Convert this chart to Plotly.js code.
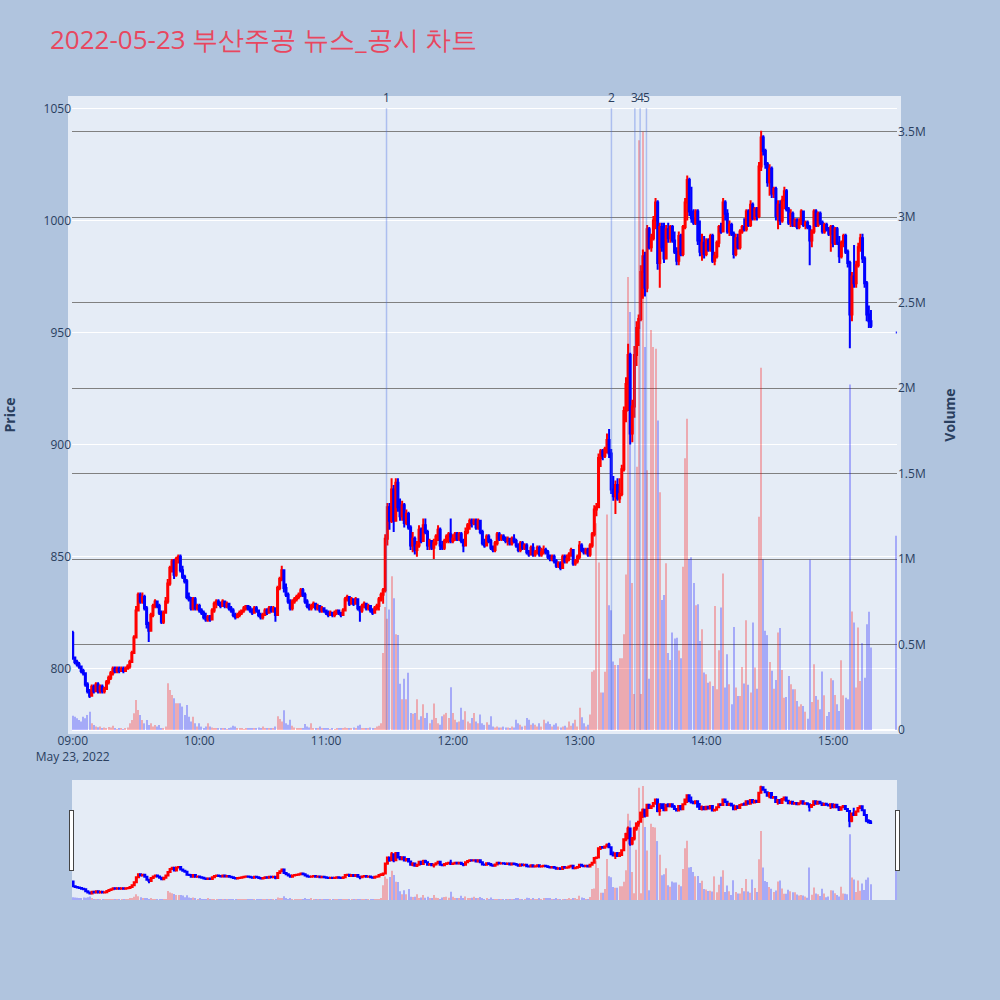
<!DOCTYPE html>
<html>
<head>
<meta charset="utf-8">
<script src="https://cdn.plot.ly/plotly-3.0.1.min.js"></script>
<style>body{margin:0;background:#B0C4DE}</style>
</head>
<body>
<div id="chart" style="width:1000px;height:1000px"></div>
<script>
// 2022-05-23 부산주공, 1-minute candles 09:00-15:18 plus the 15:30 closing print
const DAY = '2022-05-23';

const opens = [
  816,805,803,802,801,799,798,793,790,788, 792,790,793,790,792,790,791,794,796,798,
  800,799,800,799,800,799,800,801,803,807, 814,826,833,830,832,827,820,817,824,828,
  830,828,825,821,825,830,838,845,848,842, 849,850,844,841,839,832,831,827,831,827,
  828,826,825,823,822,823,822,826,829,830, 829,828,830,828,829,827,826,824,823,824,
  825,826,827,828,827,826,825,827,826,824, 823,824,826,825,827,826,827,824,836,840,
  844,836,833,830,827,830,831,832,833,835, 833,830,828,827,828,829,827,828,826,827,
  826,825,824,825,824,825,826,825,824,826, 831,832,829,831,829,831,827,826,828,829,
  827,828,826,825,827,828,831,833,835,858, 872,866,880,866,883,872,868,873,865,869,
  863,855,858,853,855,862,857,864,861,855, 857,854,856,859,862,855,854,857,859,860,
  857,858,860,858,860,857,855,861,864,866, 865,866,863,866,861,856,855,859,857,854,
  853,856,860,858,859,858,857,858,856,858, 857,855,853,856,854,855,852,851,854,851,
  852,854,851,852,853,852,850,849,850,848, 846,847,845,850,848,849,851,853,847,848,
  850,855,853,852,853,851,855,860,871,872, 894,897,895,898,902,896,880,877,882,876,
  878,889,915,927,940,905,917,940,952,956, 977,984,970,996,988,992,1000,1008,981,997,
  988,983,996,992,997,991,986,982,993,985, 997,1008,1018,1004,1001,999,1004,991,986,990,
  985,991,987,993,982,984,990,997,995,1008, 1003,995,998,994,985,992,988,995,997,996,
  1004,998,1007,1001,1005,1002,1024,1037,1031,1025, 1017,1023,1012,1014,1002,1007,1000,1009,1013,1005,
  999,1003,998,1000,997,999,1004,998,999,997, 991,995,1004,998,1003,999,995,998,996,994,
  997,990,996,990,984,990,993,986,981,958, 975,972,980,988,992,983,972,958,955,
  950
];
const highs = [
  817,805,804,803,801,800,798,794,791,793, 793,794,794,793,793,792,795,797,799,801,
  801,801,801,801,801,801,802,804,808,815, 828,834,834,834,833,828,821,825,829,831,
  830,829,826,826,832,840,846,849,849,850, 851,851,846,842,840,834,832,832,832,829,
  829,827,826,825,824,824,827,830,831,831, 830,831,830,830,829,828,827,825,825,826,
  826,828,828,828,828,827,828,828,826,825, 825,827,827,828,828,828,827,837,841,846,
  844,838,834,831,831,832,833,834,836,836, 834,831,829,829,830,829,829,828,828,827,
  826,826,826,825,826,826,826,825,827,832, 833,832,832,831,832,831,828,829,830,829,
  829,828,827,828,829,832,834,836,860,874, 874,885,882,885,885,876,875,874,871,870,
  864,861,859,857,864,863,867,867,862,858, 857,858,860,864,863,857,858,860,861,867,
  860,861,861,861,861,858,863,865,867,867, 867,867,867,866,862,858,860,860,858,855,
  857,861,861,860,860,859,859,858,859,860, 858,856,857,857,856,856,853,855,856,853,
  855,855,854,855,854,853,851,851,851,849, 848,848,851,851,851,852,854,853,849,851,
  857,856,854,854,854,856,861,873,874,896, 898,898,899,905,907,898,886,884,885,885,
  891,917,930,945,941,920,944,955,958,980, 987,986,998,997,994,1002,1010,1009,999,999,
  999,998,999,998,998,995,988,995,994,998, 1010,1020,1019,1015,1005,1005,1005,1000,994,993,
  992,992,994,994,986,991,998,999,1010,1009, 1005,1000,999,995,994,994,996,998,1001,1005,
  1005,1009,1008,1006,1006,1026,1040,1038,1032,1026, 1025,1024,1015,1015,1009,1009,1011,1015,1014,1006,
  1005,1004,1001,1001,1001,1005,1004,1000,1000,998, 996,1005,1005,1004,1004,1000,999,999,997,998,
  998,997,997,993,991,994,994,987,982,977, 989,982,990,994,994,984,973,962,960,
  950
];
const lows = [
  804,802,801,800,798,797,792,789,787,788, 789,790,789,789,789,789,791,793,795,797,
  798,798,798,799,798,799,800,800,803,807, 814,826,829,829,826,818,812,817,823,827,
  827,824,820,820,825,829,837,843,840,841, 847,843,840,838,831,830,826,826,826,826,
  825,824,822,821,821,821,822,825,827,828, 827,828,827,827,826,825,823,822,823,823,
  824,825,826,826,825,824,825,825,823,822, 822,824,824,825,825,825,821,824,835,839,
  834,832,829,826,826,829,830,831,832,832, 829,827,826,826,827,826,826,825,825,825,
  824,823,824,823,823,824,824,823,824,826, 830,828,829,828,829,826,821,825,827,826,
  826,825,824,825,826,826,830,829,834,855, 862,865,861,866,870,866,866,863,864,862,
  853,852,851,850,854,856,857,860,853,853, 853,849,855,857,853,853,853,856,856,856,
  856,857,857,857,856,852,855,860,862,863, 864,862,862,860,855,854,855,856,853,852,
  852,855,857,857,857,856,855,855,855,856, 854,852,852,853,853,851,850,851,850,850,
  851,850,850,851,851,849,848,848,847,845, 845,844,845,847,847,848,850,846,846,847,
  849,852,851,851,850,850,854,859,868,872, 890,893,894,896,894,878,875,869,875,874,
  877,888,910,915,900,901,912,935,944,955, 965,966,968,987,986,991,996,978,970,986,
  981,983,990,990,990,985,980,980,984,984, 996,1000,1002,999,998,998,989,984,982,983,
  984,986,986,981,980,983,988,994,995,1000, 994,993,993,983,984,987,987,994,995,995,
  997,997,1000,1000,1000,1001,1022,1029,1023,1015, 1011,1010,1010,1000,996,998,999,1005,1004,998,
  997,997,997,996,996,998,997,996,996,980, 988,994,997,997,998,994,994,995,993,986,
  988,989,989,981,983,988,985,979,943,955, 970,970,979,986,981,970,955,952,952,
  950
];
const closes = [
  805,803,802,801,799,798,793,790,788,792, 790,793,790,792,790,791,794,796,798,800,
  799,800,799,800,799,800,801,803,807,814, 826,833,830,832,827,820,817,824,828,830,
  828,825,821,825,830,838,845,848,842,849, 850,844,841,839,832,831,827,831,827,828,
  826,825,823,822,823,822,826,829,830,829, 828,830,828,829,827,826,824,823,824,825,
  826,827,828,827,826,825,827,826,824,823, 824,826,825,827,826,827,824,836,840,844,
  836,833,830,827,830,831,832,833,835,833, 830,828,827,828,829,827,828,826,827,826,
  825,824,825,824,825,826,825,824,826,831, 832,829,831,829,831,827,826,828,829,827,
  828,826,825,827,828,831,833,835,858,872, 866,880,866,883,872,868,873,865,869,863,
  855,858,853,855,862,857,864,861,855,857, 854,856,859,862,855,854,857,859,860,857,
  858,860,858,860,857,855,861,864,866,865, 866,863,866,861,856,855,859,857,854,853,
  856,860,858,859,858,857,858,856,858,857, 855,853,856,854,855,852,851,854,851,852,
  854,851,852,853,852,850,849,850,848,846, 847,845,850,848,849,851,853,847,848,850,
  855,853,852,853,851,855,860,871,872,894, 897,895,898,902,896,880,877,882,876,878,
  889,915,927,940,905,917,940,952,956,977, 984,970,996,988,992,1000,1008,981,997,988,
  983,996,992,997,991,986,982,993,985,997, 1008,1018,1004,1001,999,1004,991,986,990,985,
  991,987,993,982,984,990,997,995,1008,1003, 995,998,994,985,992,988,995,997,996,1004,
  998,1007,1001,1005,1002,1024,1037,1031,1025,1017, 1023,1012,1014,1002,1007,1000,1009,1013,1005,999,
  1003,998,1000,997,999,1004,998,999,997,991, 995,1004,998,1003,999,995,998,996,994,997,
  990,996,990,984,990,993,986,981,958,975, 972,980,988,992,983,972,958,955,953,
  950
];
// volume in thousands of shares
const volumesK = [
  84,78,68,59,49,78,68,88,107,39, 29,20,16,20,12,15,8,17,15,25,
  8,5,6,7,5,8,15,39,59,98, 176,117,88,59,39,59,29,39,20,29,
  20,29,12,12,20,273,234,205,186,156, 156,156,137,88,146,78,49,78,39,20,
  39,20,12,20,40,20,15,10,12,8, 10,6,8,5,10,15,25,20,10,8,
  6,5,7,10,8,12,6,10,15,10, 20,8,10,8,12,10,20,80,65,50,
  115,40,30,60,25,15,10,8,12,10, 35,20,15,40,10,10,8,20,10,8,
  6,8,5,6,5,6,8,10,12,15, 10,12,8,15,10,25,30,10,8,12,
  10,15,10,12,20,25,40,450,720,650, 705,900,770,560,555,270,180,300,180,335,
  100,95,100,180,60,80,150,70,100,40, 60,155,70,40,30,80,90,100,70,250,
  100,60,45,50,130,60,110,50,40,70, 100,50,40,90,40,30,45,30,80,20,
  15,20,15,15,20,15,15,10,20,15, 60,40,30,20,25,70,60,30,40,30,
  20,40,20,60,40,50,35,20,30,40, 20,15,20,25,15,50,25,40,60,20,
  130,75,40,20,30,90,340,350,1210,980, 220,220,340,1260,730,700,400,380,380,420,
  420,560,910,2650,2445,860,210,1540,3450,210, 3500,2240,1520,300,2340,2240,2230,1810,1390,760,
  790,975,450,410,570,535,540,465,420,955, 1590,1820,1000,1010,860,730,736,521,590,336,
  326,277,283,258,726,238,467,717,916,248, 443,268,150,603,248,199,199,369,272,642,
  264,219,629,365,242,1248,2119,998,580,555, 398,346,242,293,570,596,351,189,193,316,
  268,238,238,170,137,150,141,107,66,996, 164,385,199,177,121,342,203,82,105,303,
  291,205,150,111,408,203,189,180,2021,693, 629,248,599,287,508,306,619,691,482,
  1136
];

// news / disclosure markers
const newsLabels = ['1', '2', '3', '4', '5'];
const newsTimes = ['11:28:36', '13:15:06', '13:26:12', '13:28:42', '13:31:42'];

// minute offsets from 09:00: continuous session, then the 15:30 closing auction
const minuteIdx = [];
for (let m = 0; m <= 378; m++) minuteIdx.push(m);
minuteIdx.push(390);

function pad(n) { return String(n).padStart(2, '0'); }
const times = minuteIdx.map(m => DAY + ' ' + pad(9 + Math.floor(m / 60)) + ':' + pad(m % 60));
const barColors = closes.map((c, i) => c > opens[i] ? 'red' : 'blue');

const priceLow = 772.7, priceHigh = 1053.7;

var volTrace = {
  type: 'bar',
  x: times,
  y: volumesK.map(v => v * 1000),
  yaxis: 'y',
  width: 30000,
  marker: {color: barColors, opacity: 0.28},
  hoverinfo: 'skip',
  showlegend: false
};

var candleTrace = {
  type: 'candlestick',
  x: times,
  open: opens, high: highs, low: lows, close: closes,
  yaxis: 'y2',
  increasing: {line: {color: 'red', width: 2}, fillcolor: 'red'},
  decreasing: {line: {color: 'blue', width: 2}, fillcolor: 'blue'},
  showlegend: false
};

var shapes = [{
  // plot background shows a few px beyond the axes
  type: 'rect', xref: 'paper', yref: 'paper',
  x0: -4 / 825, x1: 1 + 4 / 825, y0: -4 / 629, y1: 1 + 4 / 629,
  fillcolor: '#E5ECF6', line: {width: 0}, layer: 'below'
}];
var annotations = [];
newsTimes.forEach(function (t, i) {
  shapes.push({
    type: 'line', xref: 'x', yref: 'y2',
    x0: DAY + ' ' + t, x1: DAY + ' ' + t, y0: priceLow, y1: 1050,
    line: {color: 'rgba(65,105,225,0.35)', width: 1.5}
  });
  annotations.push({
    x: DAY + ' ' + t, y: 1050, xref: 'x', yref: 'y2',
    text: newsLabels[i], showarrow: false, yanchor: 'bottom',
    font: {size: 12, color: '#2a3f5f'}
  });
});

var layout = {
  width: 1000,
  height: 1000,
  paper_bgcolor: '#B0C4DE',
  plot_bgcolor: '#E5ECF6',
  font: {color: '#2a3f5f'},
  title: {
    text: '2022-05-23 부산주공 뉴스_공시 차트',
    x: 0.05, xanchor: 'left', y: 0.96, yanchor: 'middle',
    font: {size: 26, color: '#E8475F'}
  },
  // the range slider pushes the bottom margin by its own height plus the tick labels
  margin: {l: 72, r: 103, t: 100, b: 100, pad: 0},
  showlegend: false,
  xaxis: {
    type: 'date',
    range: [DAY + ' 08:59:40', DAY + ' 15:30:20'],
    dtick: 3600000,
    tick0: DAY + ' 09:00',
    showgrid: false,
    zeroline: false,
    linecolor: 'white',
    rangeslider: {visible: true, thickness: 0.15, bgcolor: '#E5ECF6'}
  },
  yaxis: {
    side: 'right',
    range: [0, 3.685e6],
    dtick: 500000,
    showgrid: true,
    gridcolor: 'gray',
    zeroline: true,
    zerolinecolor: 'white',
    zerolinewidth: 2,
    title: {text: '<b>Volume</b>', standoff: 20}
  },
  yaxis2: {
    overlaying: 'y',
    side: 'left',
    range: [priceLow, priceHigh],
    dtick: 50,
    showgrid: true,
    gridcolor: 'white',
    zeroline: false,
    title: {text: '<b>Price</b>', standoff: 24}
  },
  shapes: shapes,
  annotations: annotations
};

Plotly.newPlot('chart', [volTrace, candleTrace], layout, {displayModeBar: false});
</script>
</body>
</html>
